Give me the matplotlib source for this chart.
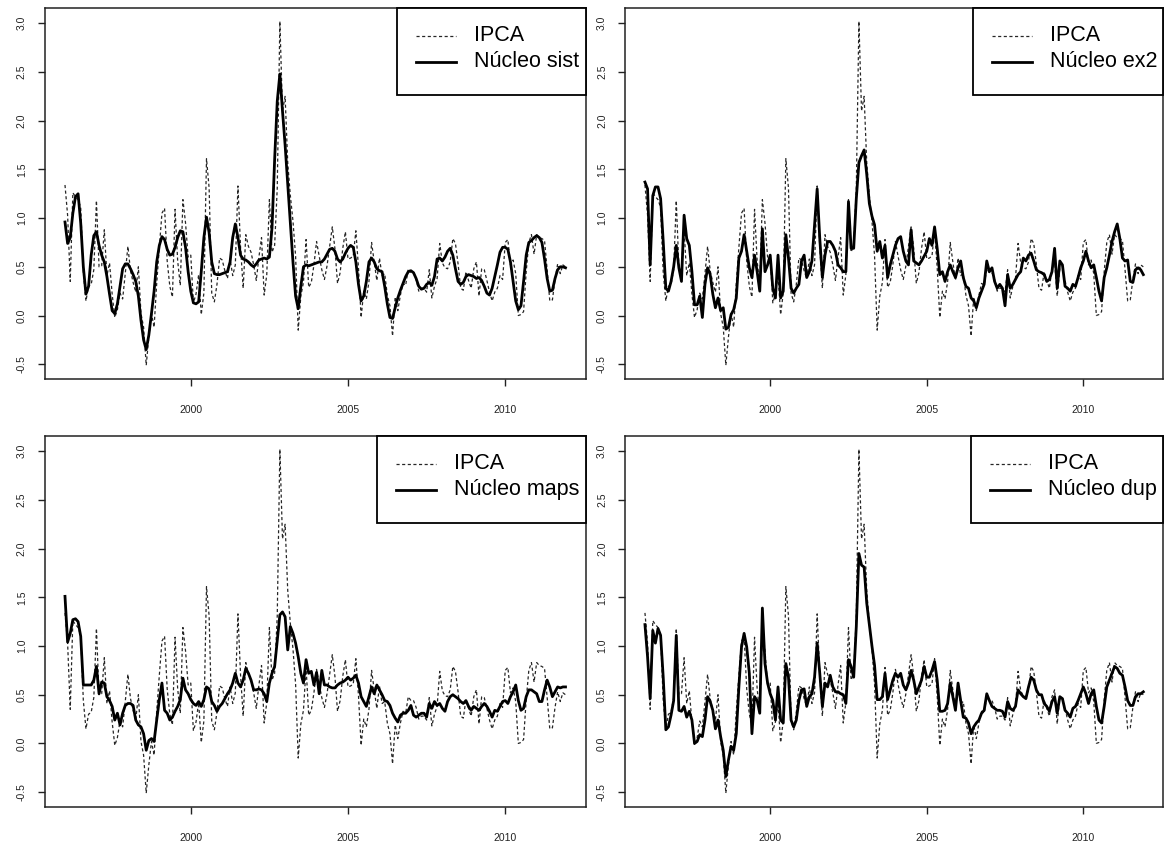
from matplotlib import pyplot as plt
from matplotlib.patches import Rectangle
import numpy as np

plt.rcParams['font.family'] = ['Liberation Sans', 'DejaVu Sans']

# IPCA mensal (%), jan/1996 a dez/2011
ipca = [
    1.34, 1.03, 0.35, 1.26, 1.22, 1.19, 1.11, 0.44, 0.15, 0.30, 0.32, 0.47,
    1.18, 0.50, 0.51, 0.88, 0.41, 0.54, 0.22, -0.02, 0.06, 0.23, 0.17, 0.43,
    0.71, 0.46, 0.34, 0.24, 0.50, 0.02, -0.12, -0.51, -0.22, 0.02, -0.12, 0.33,
    0.70, 1.05, 1.10, 0.56, 0.30, 0.19, 1.09, 0.56, 0.31, 1.19, 0.95, 0.60,
    0.62, 0.13, 0.22, 0.42, 0.01, 0.23, 1.61, 1.31, 0.23, 0.14, 0.32, 0.59,
    0.57, 0.46, 0.38, 0.58, 0.41, 0.52, 1.33, 0.70, 0.28, 0.83, 0.71, 0.65,
    0.52, 0.36, 0.60, 0.80, 0.21, 0.42, 1.19, 0.65, 0.72, 1.31, 3.02, 2.10,
    2.25, 1.57, 1.23, 0.97, 0.61, -0.15, 0.20, 0.34, 0.78, 0.29, 0.34, 0.52,
    0.76, 0.61, 0.47, 0.37, 0.51, 0.71, 0.91, 0.69, 0.33, 0.44, 0.69, 0.86,
    0.58, 0.59, 0.61, 0.87, 0.49, -0.02, 0.25, 0.17, 0.35, 0.75, 0.55, 0.36,
    0.59, 0.41, 0.43, 0.21, 0.10, -0.21, 0.19, 0.05, 0.21, 0.33, 0.31, 0.48,
    0.44, 0.44, 0.37, 0.25, 0.28, 0.28, 0.24, 0.47, 0.18, 0.30, 0.38, 0.74,
    0.54, 0.49, 0.48, 0.55, 0.79, 0.74, 0.53, 0.28, 0.26, 0.45, 0.36, 0.28,
    0.48, 0.55, 0.20, 0.48, 0.47, 0.36, 0.24, 0.15, 0.24, 0.28, 0.41, 0.37,
    0.75, 0.78, 0.52, 0.57, 0.43, 0.00, 0.01, 0.04, 0.45, 0.75, 0.83, 0.63,
    0.83, 0.80, 0.79, 0.77, 0.47, 0.15, 0.16, 0.37, 0.53, 0.43, 0.52, 0.50,
]

nucleo_sist = [
    0.96, 0.74, 0.80, 1.05, 1.22, 1.25, 0.95, 0.50, 0.22, 0.30, 0.62, 0.82,
    0.86, 0.72, 0.62, 0.55, 0.40, 0.22, 0.05, 0.02, 0.12, 0.30, 0.48, 0.53,
    0.53, 0.48, 0.42, 0.35, 0.20, -0.05, -0.25, -0.35, -0.20, 0.02, 0.25, 0.55,
    0.72, 0.81, 0.78, 0.68, 0.62, 0.63, 0.70, 0.80, 0.87, 0.86, 0.70, 0.45,
    0.25, 0.13, 0.12, 0.14, 0.45, 0.80, 1.01, 0.85, 0.55, 0.43, 0.42, 0.42,
    0.43, 0.44, 0.45, 0.55, 0.80, 0.94, 0.80, 0.62, 0.58, 0.57, 0.55, 0.52,
    0.50, 0.53, 0.57, 0.58, 0.59, 0.58, 0.60, 0.90, 1.60, 2.20, 2.48, 2.10,
    1.75, 1.35, 0.95, 0.55, 0.20, 0.07, 0.30, 0.50, 0.52, 0.51, 0.52, 0.53,
    0.54, 0.55, 0.55, 0.58, 0.63, 0.68, 0.69, 0.66, 0.58, 0.55, 0.58, 0.64,
    0.69, 0.72, 0.70, 0.55, 0.32, 0.15, 0.20, 0.35, 0.55, 0.59, 0.55, 0.48,
    0.46, 0.45, 0.30, 0.12, -0.02, -0.03, 0.08, 0.18, 0.26, 0.33, 0.40, 0.45,
    0.46, 0.44, 0.38, 0.30, 0.27, 0.28, 0.32, 0.34, 0.31, 0.40, 0.58, 0.59,
    0.56, 0.60, 0.66, 0.69, 0.62, 0.48, 0.35, 0.32, 0.34, 0.40, 0.42, 0.41,
    0.40, 0.38, 0.39, 0.36, 0.30, 0.23, 0.21, 0.28, 0.40, 0.52, 0.65, 0.70,
    0.70, 0.68, 0.55, 0.35, 0.15, 0.06, 0.10, 0.35, 0.62, 0.75, 0.77, 0.80,
    0.82, 0.80, 0.75, 0.58, 0.38, 0.25, 0.26, 0.38, 0.47, 0.50, 0.50, 0.49,
]

nucleo_ex2 = [
    1.37, 1.30, 0.52, 1.23, 1.32, 1.32, 1.20, 0.76, 0.28, 0.25, 0.35, 0.50,
    0.72, 0.49, 0.35, 1.03, 0.79, 0.72, 0.45, 0.11, 0.11, 0.20, -0.02, 0.32,
    0.49, 0.42, 0.22, 0.08, 0.18, 0.05, 0.08, -0.14, -0.12, 0.01, 0.06, 0.18,
    0.59, 0.66, 0.83, 0.66, 0.49, 0.39, 0.62, 0.45, 0.25, 0.89, 0.45, 0.52,
    0.62, 0.28, 0.18, 0.62, 0.18, 0.25, 0.83, 0.59, 0.28, 0.23, 0.28, 0.32,
    0.56, 0.62, 0.39, 0.45, 0.56, 0.93, 1.30, 0.79, 0.39, 0.62, 0.76, 0.76,
    0.72, 0.66, 0.52, 0.49, 0.45, 0.45, 1.17, 0.69, 0.69, 1.20, 1.57, 1.64,
    1.70, 1.45, 1.15, 1.02, 0.93, 0.66, 0.76, 0.59, 0.72, 0.39, 0.52, 0.62,
    0.72, 0.79, 0.81, 0.66, 0.56, 0.52, 0.88, 0.56, 0.54, 0.52, 0.56, 0.61,
    0.66, 0.79, 0.72, 0.91, 0.69, 0.42, 0.45, 0.35, 0.45, 0.52, 0.45, 0.39,
    0.49, 0.56, 0.39, 0.30, 0.28, 0.18, 0.15, 0.08, 0.18, 0.25, 0.32, 0.56,
    0.45, 0.49, 0.35, 0.28, 0.32, 0.28, 0.10, 0.42, 0.28, 0.32, 0.37, 0.42,
    0.45, 0.59, 0.56, 0.62, 0.64, 0.56, 0.47, 0.45, 0.44, 0.42, 0.35, 0.37,
    0.45, 0.69, 0.28, 0.56, 0.52, 0.30, 0.28, 0.25, 0.32, 0.30, 0.39, 0.49,
    0.56, 0.66, 0.56, 0.49, 0.52, 0.39, 0.25, 0.15, 0.39, 0.49, 0.62, 0.76,
    0.86, 0.94, 0.79, 0.59, 0.56, 0.57, 0.35, 0.34, 0.47, 0.49, 0.47, 0.42,
]

nucleo_maps = [
    1.51, 1.04, 1.13, 1.27, 1.28, 1.25, 1.10, 0.60, 0.60, 0.60, 0.60, 0.65,
    0.79, 0.51, 0.63, 0.62, 0.48, 0.44, 0.38, 0.24, 0.31, 0.19, 0.31, 0.39,
    0.41, 0.41, 0.39, 0.24, 0.19, 0.17, 0.10, -0.07, 0.03, 0.05, 0.02, 0.24,
    0.45, 0.62, 0.34, 0.31, 0.24, 0.27, 0.33, 0.38, 0.45, 0.67, 0.55, 0.51,
    0.45, 0.41, 0.39, 0.43, 0.38, 0.45, 0.58, 0.56, 0.43, 0.39, 0.33, 0.38,
    0.41, 0.46, 0.51, 0.55, 0.62, 0.72, 0.62, 0.58, 0.65, 0.77, 0.72, 0.65,
    0.55, 0.55, 0.56, 0.55, 0.51, 0.43, 0.62, 0.72, 0.79, 1.06, 1.32, 1.35,
    1.30, 0.96, 1.20, 1.13, 1.03, 0.89, 0.72, 0.62, 0.86, 0.72, 0.74, 0.60,
    0.73, 0.51, 0.75, 0.60, 0.60, 0.58, 0.57, 0.57, 0.60, 0.62, 0.63, 0.65,
    0.68, 0.65, 0.67, 0.70, 0.62, 0.48, 0.43, 0.38, 0.48, 0.58, 0.51, 0.60,
    0.55, 0.50, 0.44, 0.43, 0.39, 0.31, 0.26, 0.22, 0.29, 0.31, 0.31, 0.34,
    0.39, 0.29, 0.27, 0.29, 0.31, 0.31, 0.27, 0.41, 0.36, 0.43, 0.39, 0.41,
    0.36, 0.33, 0.43, 0.48, 0.50, 0.48, 0.46, 0.43, 0.41, 0.44, 0.38, 0.34,
    0.38, 0.36, 0.34, 0.38, 0.41, 0.38, 0.33, 0.27, 0.34, 0.33, 0.38, 0.43,
    0.44, 0.41, 0.48, 0.53, 0.60, 0.44, 0.34, 0.36, 0.48, 0.55, 0.55, 0.53,
    0.51, 0.43, 0.43, 0.55, 0.65, 0.58, 0.48, 0.53, 0.58, 0.57, 0.58, 0.58,
]

nucleo_dup = [
    1.22, 0.89, 0.46, 1.16, 1.03, 1.18, 1.11, 0.68, 0.14, 0.17, 0.29, 0.44,
    1.11, 0.34, 0.33, 0.38, 0.27, 0.33, 0.24, 0.00, 0.02, 0.09, 0.07, 0.24,
    0.48, 0.43, 0.34, 0.15, 0.24, 0.07, -0.07, -0.34, -0.17, -0.03, -0.07, 0.10,
    0.58, 0.99, 1.13, 0.99, 0.72, 0.10, 0.48, 0.44, 0.31, 1.39, 0.82, 0.62,
    0.51, 0.44, 0.24, 0.58, 0.24, 0.21, 0.82, 0.68, 0.24, 0.17, 0.24, 0.44,
    0.55, 0.56, 0.38, 0.48, 0.51, 0.68, 1.03, 0.72, 0.38, 0.62, 0.58, 0.70,
    0.58, 0.53, 0.53, 0.51, 0.50, 0.41, 0.86, 0.79, 0.68, 1.20, 1.95, 1.83,
    1.81, 1.44, 1.22, 1.00, 0.80, 0.45, 0.45, 0.48, 0.72, 0.45, 0.55, 0.65,
    0.72, 0.68, 0.72, 0.60, 0.55, 0.62, 0.75, 0.65, 0.51, 0.58, 0.65, 0.79,
    0.68, 0.68, 0.75, 0.84, 0.65, 0.33, 0.33, 0.34, 0.41, 0.62, 0.48, 0.34,
    0.62, 0.44, 0.27, 0.26, 0.21, 0.10, 0.17, 0.21, 0.24, 0.31, 0.34, 0.51,
    0.44, 0.38, 0.36, 0.34, 0.34, 0.33, 0.27, 0.43, 0.36, 0.34, 0.38, 0.55,
    0.51, 0.48, 0.46, 0.58, 0.68, 0.65, 0.55, 0.50, 0.50, 0.41, 0.38, 0.33,
    0.43, 0.48, 0.31, 0.48, 0.46, 0.34, 0.31, 0.27, 0.36, 0.38, 0.44, 0.51,
    0.58, 0.51, 0.41, 0.51, 0.55, 0.38, 0.24, 0.21, 0.38, 0.58, 0.65, 0.72,
    0.79, 0.77, 0.72, 0.70, 0.58, 0.44, 0.39, 0.39, 0.48, 0.51, 0.51, 0.53,
]

legend_labels = ["Núcleo sist", "Núcleo ex2", "Núcleo maps", "Núcleo dup"]
cores = [nucleo_sist, nucleo_ex2, nucleo_maps, nucleo_dup]

# monthly time axis, like an R ts starting at 1996/1
t = 1996 + np.arange(len(ipca)) / 12.0

# axes placement (left, bottom, width, height) in figure fractions
positions = [
    (0.0386, 0.5510, 0.4640, 0.4400),
    (0.5365, 0.5510, 0.4620, 0.4400),
    (0.0386, 0.0440, 0.4640, 0.4400),
    (0.5365, 0.0440, 0.4620, 0.4400),
]

# R-style 4% padding around the data range
ymin, ymax = min(ipca), max(ipca)
ypad = 0.04 * (ymax - ymin)
xpad = 0.04 * (t[-1] - t[0])

ipca_style = dict(color="black", linewidth=0.9, linestyle=(0, (2.5, 2)), alpha=0.85)
core_style = dict(color="black", linewidth=2.0)

fig = plt.figure(figsize=(11.65, 8.44), dpi=100)
renderer = fig.canvas.get_renderer()


def draw_legend(ax, label):
    # R-like boxed legend glued to the top-right corner, sizes in pixels
    bb = ax.get_window_extent()
    w, h = bb.width, bb.height
    fs = 15.5
    txt = ax.text(0, 0, label, fontsize=fs, transform=ax.transAxes)
    tw = txt.get_window_extent(renderer).width
    txt.remove()
    box_w = 19 + 40 + 18 + tw + 6
    box_h = 87
    left = 1 - box_w / w
    ax.add_patch(Rectangle((left, 1 - box_h / h), box_w / w, box_h / h,
                           transform=ax.transAxes, facecolor="white",
                           edgecolor="black", linewidth=1.3, zorder=5,
                           clip_on=False))
    rows = [("IPCA", ipca_style, 28), (label, core_style, 54)]
    for text, style, dy in rows:
        yy = 1 - dy / h
        x0 = left + 19 / w
        x1 = x0 + 40 / w
        ax.plot([x0, x1], [yy, yy], transform=ax.transAxes, zorder=6, **style)
        ax.text(x1 + 18 / w, yy, text, fontsize=fs, va="center", ha="left",
                transform=ax.transAxes, zorder=6)


for pos, core, label in zip(positions, cores, legend_labels):
    ax = fig.add_axes(pos)
    ax.plot(t, ipca, **ipca_style)
    ax.plot(t, core, **core_style)

    ax.set_xlim(t[0] - xpad, t[-1] + xpad)
    ax.set_ylim(ymin - ypad, ymax + ypad)
    ax.set_xticks([2000, 2005, 2010])
    yt = np.arange(-0.5, 3.01, 0.5)
    ax.set_yticks(yt)
    ax.set_yticklabels(["%.1f" % v for v in yt], rotation=90, va="center")
    ax.tick_params(direction="out", length=5, width=1.0, labelsize=7.5,
                   colors="#222222", pad=8)
    ax.tick_params(axis="x", pad=14)
    for s in ax.spines.values():
        s.set_linewidth(1.1)
        s.set_color("#222222")

    draw_legend(ax, label)

plt.savefig("out.png", dpi=100)
